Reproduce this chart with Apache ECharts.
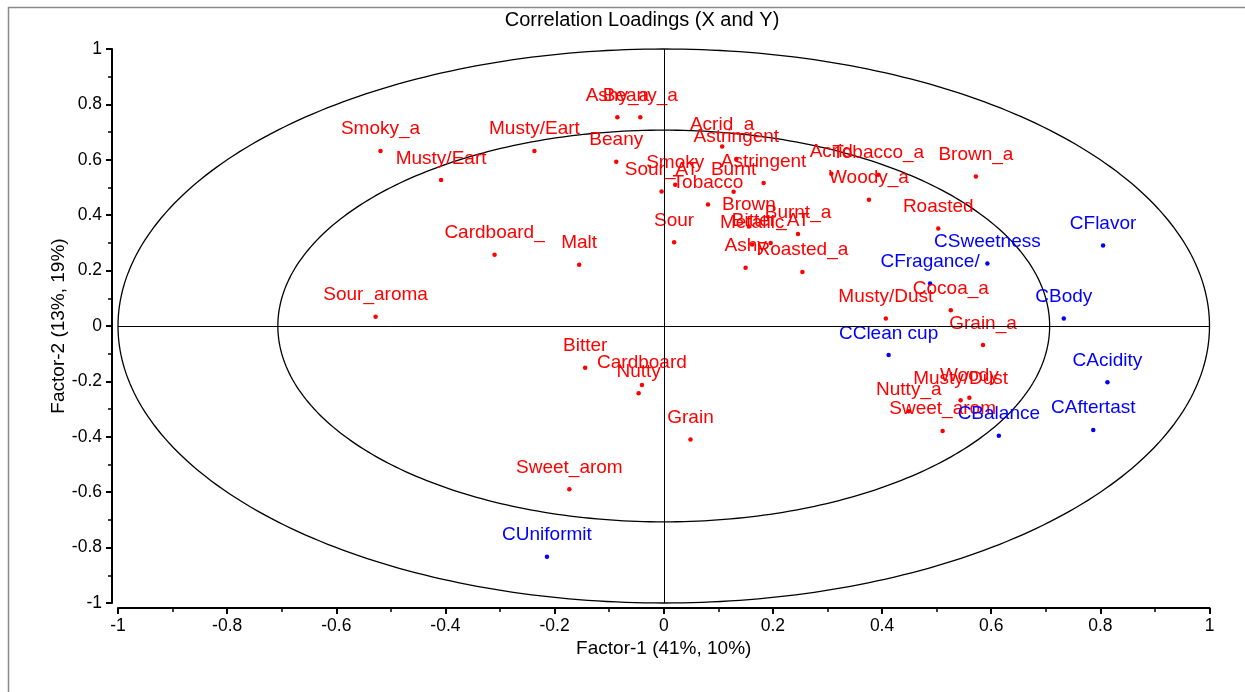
<!DOCTYPE html>
<html>
<head>
<meta charset="utf-8">
<title>Correlation Loadings (X and Y)</title>
<script src="https://cdn.jsdelivr.net/npm/echarts@6/dist/echarts.min.js"></script>
<style>
  html, body { margin: 0; padding: 0; background: #fff; }
  #chart { width: 1245px; height: 692px; }
</style>
</head>
<body>
<div id="chart"></div>
<script>
// X-variables (sensory attributes): loadings on Factor-1 and Factor-2
const xVarNames = [
  'Smoky_a', 'Musty/Eart', 'Musty/Eart', 'Ashy_a', 'Beany_a', 'Beany',
  'Sour_AT', 'Smoky', 'Acrid_a', 'Astringent', 'Astringent', 'Burnt',
  'Tobacco', 'Brown', 'Metallic', 'Bitter_AT', 'Burnt_a', 'Ashy',
  'Roasted_a', 'Acrid', 'Tobacco_a', 'Woody_a', 'Brown_a', 'Roasted',
  'Sour', 'Cardboard_', 'Malt', 'Sour_aroma', 'Bitter', 'Cardboard',
  'Nutty', 'Grain', 'Sweet_arom', 'Cocoa_a', 'Musty/Dust', 'Grain_a',
  'Woody', 'Musty/Dust', 'Nutty_a', 'Sweet_arom'
];
const xVarF1 = [
  -0.519, -0.237, -0.408, -0.085, -0.043, -0.087,
  -0.004, 0.021, 0.107, 0.133, 0.183, 0.128,
  0.081, 0.156, 0.162, 0.196, 0.246, 0.150,
  0.254, 0.307, 0.393, 0.376, 0.572, 0.503,
  0.019, -0.310, -0.155, -0.528, -0.144, -0.040,
  -0.046, 0.049, -0.173, 0.526, 0.407, 0.585,
  0.560, 0.544, 0.449, 0.511
];
const xVarF2 = [
  0.632, 0.632, 0.527, 0.754, 0.754, 0.593,
  0.486, 0.510, 0.648, 0.603, 0.516, 0.485,
  0.439, 0.359, 0.294, 0.300, 0.332, 0.210,
  0.195, 0.550, 0.546, 0.456, 0.540, 0.352,
  0.302, 0.257, 0.221, 0.033, -0.151, -0.213,
  -0.243, -0.410, -0.589, 0.057, 0.027, -0.069,
  -0.259, -0.268, -0.308, -0.379
];

// Y-variables (cupping scores): loadings on Factor-1 and Factor-2
const yVarNames = [
  'CFlavor', 'CSweetness', 'CFragance/', 'CBody', 'CClean cup',
  'CAcidity', 'CAftertast', 'CBalance', 'CUniformit'
];
const yVarF1 = [0.805, 0.593, 0.488, 0.733, 0.412, 0.813, 0.787, 0.614, -0.214];
const yVarF2 = [0.291, 0.226, 0.153, 0.027, -0.105, -0.203, -0.375, -0.396, -0.833];

// Radii of the reference ellipses (100% and 50% explained variance)
const circleRadii = [1, Math.SQRT1_2];

// Axis ticks
const axisMin = -1, axisMax = 1, axisStep = 0.2;

const FONT = '"Liberation Sans", Arial, sans-serif';

const toPoints = (names, f1, f2) =>
  names.map((n, i) => ({ name: n, value: [f1[i], f2[i]] }));

function axisCommon() {
  return {
    type: 'value',
    min: axisMin,
    max: axisMax,
    interval: axisStep,
    splitLine: { show: false },
    axisLine: { show: true, onZero: false, lineStyle: { color: '#000', width: 2 } },
    axisTick: { show: true, inside: false, length: 6, lineStyle: { color: '#000', width: 2 } },
    minorTick: { show: true, splitNumber: 2, length: 4, lineStyle: { color: '#000', width: 1.5 } },
    axisLabel: { color: '#000', fontSize: 17.5, fontFamily: FONT },
    nameLocation: 'middle',
    nameMoveOverlap: false,
    nameTextStyle: { color: '#000', fontSize: 19, fontFamily: FONT }
  };
}

const labelStyle = (color) => ({
  show: true,
  position: 'top',
  distance: 10,
  formatter: '{b}',
  color: color,
  opacity: 1,
  fontSize: 19,
  fontFamily: FONT
});

const chart = echarts.init(document.getElementById('chart'), null, { renderer: 'canvas' });

chart.setOption({
  animation: false,
  backgroundColor: '#fff',
  title: {
    text: 'Correlation Loadings (X and Y)',
    left: 637,
    top: 5,
    textAlign: 'center',
    textStyle: { color: '#000', fontSize: 20, fontWeight: 'normal', fontFamily: FONT }
  },
  graphic: [{
    type: 'rect',
    left: 6,
    top: 5,
    shape: { width: 1300, height: 720 },
    style: { fill: null, stroke: '#8a8a8a', lineWidth: 1.5 },
    silent: true,
    z: -1
  }],
  grid: { left: 118, right: 35.5, top: 49, bottom: 89, containLabel: false },
  xAxis: Object.assign(axisCommon(), {
    position: 'bottom',
    offset: 5,
    name: 'Factor-1 (41%, 10%)',
    nameGap: 31,
    axisLabel: { color: '#000', fontSize: 17.5, fontFamily: FONT, margin: 9 }
  }),
  yAxis: Object.assign(axisCommon(), {
    position: 'left',
    offset: 6,
    name: 'Factor-2 (13%, 19%)',
    nameGap: 44,
    axisLabel: { color: '#000', fontSize: 17.5, fontFamily: FONT, margin: 10 }
  }),
  series: [
    {
      // reference ellipses
      type: 'custom',
      data: circleRadii.map(r => [r]),
      silent: true,
      z: 1,
      renderItem: function (params, api) {
        const r = api.value(0);
        const pts = [];
        for (let a = 0; a <= 360; a += 1) {
          const t = a * Math.PI / 180;
          pts.push(api.coord([r * Math.cos(t), r * Math.sin(t)]));
        }
        return {
          type: 'polyline',
          shape: { points: pts },
          style: { stroke: '#000', lineWidth: 1.3, fill: null }
        };
      },
      markLine: {
        silent: true,
        symbol: 'none',
        label: { show: false },
        lineStyle: { color: '#000', width: 1, type: 'solid' },
        data: [{ xAxis: 0 }, { yAxis: 0 }]
      }
    },
    {
      name: 'X-variables',
      type: 'scatter',
      symbol: 'circle',
      symbolSize: 4.5,
      z: 3,
      itemStyle: { color: '#ff0000', opacity: 1 },
      label: labelStyle('#ff0000'),
      data: toPoints(xVarNames, xVarF1, xVarF2)
    },
    {
      name: 'Y-variables',
      type: 'scatter',
      symbol: 'circle',
      symbolSize: 4.5,
      z: 3,
      itemStyle: { color: '#0000ff', opacity: 1 },
      label: labelStyle('#0000ff'),
      data: toPoints(yVarNames, yVarF1, yVarF2)
    }
  ]
});
</script>
</body>
</html>
